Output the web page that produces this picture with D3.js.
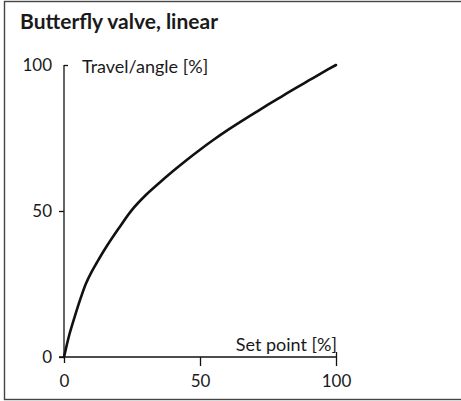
<!DOCTYPE html>
<html>
<head>
<meta charset="utf-8">
<script src="https://cdn.jsdelivr.net/npm/d3@7"></script>
<style>
  html, body { margin: 0; padding: 0; background: #fff; }
  svg { display: block; }
  text { font-family: Lato, "Open Sans", sans-serif; fill: #1a1a1a; }
</style>
</head>
<body>
<svg id="chart" width="461" height="401"></svg>
<script>
// Characteristic of a butterfly valve with linear characteristic
const setPoint = [0, 1, 2, 4, 6, 8, 10, 12, 15, 20, 25, 30, 35, 40, 45, 50, 55, 60, 65, 70, 75, 80, 85, 90, 95, 100];
const travel   = [0, 4, 7.8, 14, 19.8, 25, 28.9, 32.2, 36.9, 43.9, 50.4, 55.4, 59.6, 63.6, 67.4, 71, 74.4, 77.6, 80.6, 83.5, 86.4, 89.2, 92, 94.7, 97.4, 100];
const xTicks = [0, 50, 100];
const yTicks = [0, 50, 100];
const titleText = "Butterfly valve, linear";
const xLabel = "Set point [%]";
const yLabel = "Travel/angle [%]";

const svg = d3.select("#chart");

// outer frame (open on the right)
svg.append("rect")
  .attr("x", 4.5).attr("y", 1.5)
  .attr("width", 470).attr("height", 398)
  .attr("fill", "none").attr("stroke", "#444").attr("stroke-width", 1.4);

svg.append("text")
  .attr("x", 20).attr("y", 29)
  .attr("font-size", 21).attr("font-weight", 700)
  .text(titleText);

const x = d3.scaleLinear().domain([0, 100]).range([64, 336]);
const y = d3.scaleLinear().domain([0, 100]).range([357, 65]);

const axisColor = "#111";

// axes
const gx = svg.append("g").attr("transform", `translate(0,${y(0)})`)
  .call(d3.axisBottom(x).tickValues(xTicks).tickSize(9).tickPadding(9));
const gy = svg.append("g").attr("transform", `translate(${x(0)},0)`)
  .call(d3.axisLeft(y).tickValues(yTicks).tickSize(5).tickPadding(7));

[gx, gy].forEach(g => {
  g.select(".domain").remove();
  g.selectAll("line").attr("stroke", axisColor).attr("stroke-width", 1.3);
  g.selectAll("text").attr("font-size", 17).attr("font-family", null).attr("fill", "#1a1a1a");
});
// the 0 tick on each axis is the other axis' extension
gx.selectAll(".tick").filter(d => d === 0).select("line").attr("y2", 6);
// the end ticks cross the axis
gx.selectAll(".tick").filter(d => d === 100).select("line").attr("y1", -5);
gy.selectAll(".tick").filter(d => d === 100).select("line").attr("x2", 4);

// axis lines
svg.append("line")
  .attr("x1", x(0) - 5).attr("x2", x(100))
  .attr("y1", y(0)).attr("y2", y(0))
  .attr("stroke", axisColor).attr("stroke-width", 1.3);
svg.append("line")
  .attr("x1", x(0)).attr("x2", x(0))
  .attr("y1", y(0)).attr("y2", y(100))
  .attr("stroke", axisColor).attr("stroke-width", 1.3);

// axis titles
svg.append("text")
  .attr("x", 82).attr("y", y(100) + 8)
  .attr("font-size", 18)
  .text(yLabel);
svg.append("text")
  .attr("x", x(100) + 1).attr("y", y(0) - 6)
  .attr("text-anchor", "end")
  .attr("font-size", 18)
  .text(xLabel);

// curve
const pts = setPoint.map((s, i) => [s, travel[i]]);
svg.append("path")
  .datum(pts)
  .attr("fill", "none")
  .attr("stroke", "#111")
  .attr("stroke-width", 2.6)
  .attr("stroke-linecap", "round")
  .attr("stroke-linejoin", "round")
  .attr("d", d3.line().x(d => x(d[0])).y(d => y(d[1])).curve(d3.curveCatmullRom.alpha(0.5)));
</script>
</body>
</html>
